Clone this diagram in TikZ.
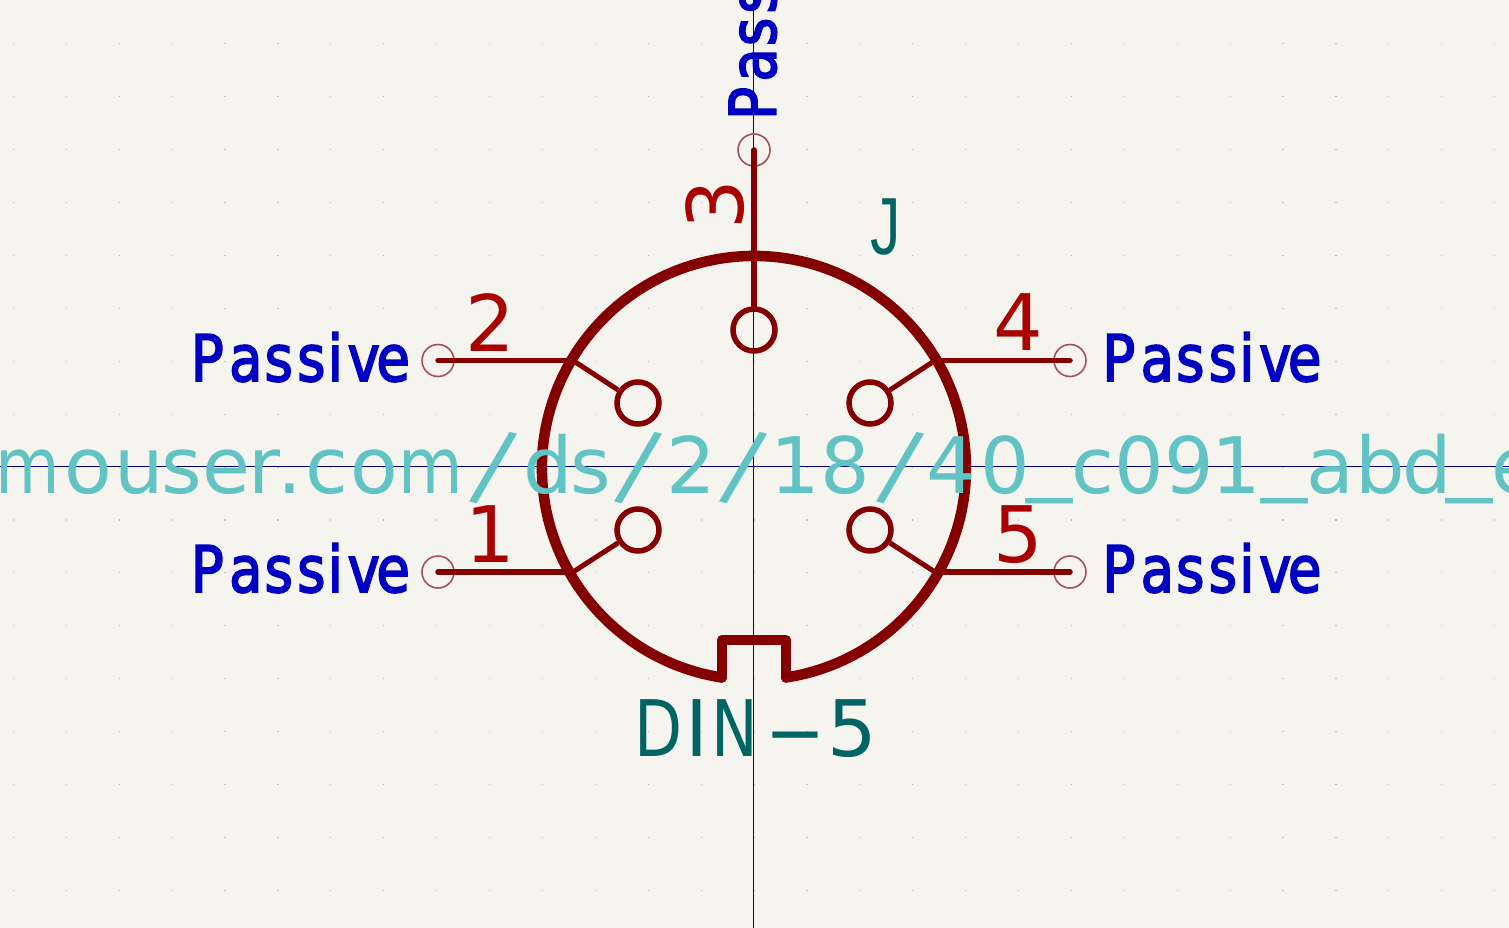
\documentclass[tikz,border=0pt]{standalone}
\usepackage{fontspec}
\setmainfont{DejaVu Sans}
\newfontfamily\pinfont[FakeBold=3]{DejaVu Sans}
\newfontfamily\reffont{Liberation Sans}
\definecolor{bgc}{HTML}{F5F4EF}
\definecolor{symc}{HTML}{840000}
\definecolor{numc}{HTML}{A90000}
\definecolor{valc}{HTML}{006464}
\definecolor{dsc}{HTML}{61C3C3}
\definecolor{typec}{HTML}{0000C2}
\definecolor{axisc}{HTML}{00007F}
\definecolor{endc}{HTML}{A85058}
\definecolor{gridc}{HTML}{C0C0B8}
\newcommand\uk[1]{\kern#1pt\relax}
\newcommand\urlslash{\makebox[52pt][c]{\raisebox{-4pt}{\rotatebox[origin=c]{-13}{\scalebox{1.2}{/}}}}}
\newcommand\urlbar{\raisebox{8pt}{\scalebox{1.18}[1]{\_}}}
\newcommand\urlm{\scalebox{.85}[1]{m}}
\newcommand\Passive{\scalebox{.85}[1]{P\uk{6.5}a\uk{2.4}s\uk{5}s\uk{2.7}i\uk{5.5}v\uk{-4}e}}
\tikzset{
  ring/.style={draw=symc,line width=10.5pt,line cap=round,line join=round},
  pinline/.style={draw=symc,line width=5.5pt,line cap=round},
  wire/.style={draw=symc,line width=5pt},
  contact/.style={circle,draw=symc,line width=5.5pt,minimum size=42pt,inner sep=0pt},
  pinend/.style={circle,draw=endc,line width=1.6pt,minimum size=32pt,inner sep=0pt},
  typelabel/.style={anchor=base west,inner sep=0pt,text=typec,font=\pinfont\fontsize{64}{64}\selectfont},
  numlabel/.style={anchor=base,inner sep=0pt,text=numc,font=\fontsize{78}{78}\selectfont},
  vallabel/.style={anchor=base west,inner sep=0pt,text=valc,font=\fontsize{78}{78}\selectfont},
  urllabel/.style={anchor=base west,inner sep=0pt,text=dsc,font=\fontsize{78}{78}\selectfont},
}
\begin{document}
\begin{tikzpicture}[x=1pt,y=-1pt]
\useasboundingbox (0,0) rectangle (1509,928);
\clip (0,0) rectangle (1509,928);
\fill[bgc] (0,0) rectangle (1509,928);
% grid dots
\foreach \i in {-14,...,14}
  \foreach \j in {-8,...,8}
    \fill[gridc] ({754+\i*52.9-0.6},{467+\j*52.9-0.6}) rectangle +(1.2,1.2);
% axes
\coordinate (axT) at (753.5,0); \coordinate (axB) at (753.5,928);
\coordinate (axL) at (0,466.5); \coordinate (axR) at (1509,466.5);
\draw[axisc,line width=1pt] (axT) -- (axB);
\draw[axisc,line width=1pt] (axL) -- (axR);
% ring and notch
\coordinate (nl) at (722,677.5); \coordinate (nr) at (786,677.5);
\coordinate (nlt) at (722,640); \coordinate (nrt) at (786,640);
\draw[ring] (nr) arc[start angle=81.3,end angle=-261.3,radius=212];
\draw[ring] (nl) -- (nlt) -- (nrt) -- (nr);
% pin ends
\node[pinend] (e1) at (438,572) {};
\node[pinend] (e2) at (438,360.5) {};
\node[pinend] (e3) at (754,150) {};
\node[pinend] (e4) at (1070,360.5) {};
\node[pinend] (e5) at (1070,572) {};
% contacts
\node[contact] (c1) at (638,530) {};
\node[contact] (c2) at (638,403) {};
\node[contact] (c3) at (754,330) {};
\node[contact] (c4) at (870,403) {};
\node[contact] (c5) at (870,530) {};
% ring junctions
\coordinate (j1) at (573,572); \coordinate (j2) at (573,360.5);
\coordinate (j4) at (935,360.5); \coordinate (j5) at (935,572);
% pins
\draw[pinline] (e1.center) -- (j1);
\draw[pinline] (e2.center) -- (j2);
\draw[pinline] (e3.center) -- (c3.north);
\draw[pinline] (e4.center) -- (j4);
\draw[pinline] (e5.center) -- (j5);
\draw[wire] (j1) -- (c1);
\draw[wire] (j2) -- (c2);
\draw[wire] (j4) -- (c4);
\draw[wire] (j5) -- (c5);
% numbers
\node[numlabel] (n1) at (490,562) {1};
\node[numlabel] (n2) at (490,351) {2};
\node[numlabel,rotate=90] (n3) at (743,205) {3};
\node[numlabel] (n4) at (1018.5,350) {4};
\node[numlabel] (n5) at (1018,562) {5};
% electrical types
\node[typelabel] (t1) at (190.7,592) {\Passive};
\node[typelabel] (t2) at (190.7,381) {\Passive};
\node[typelabel,rotate=90] (t3) at (775.7,120) {\Passive};
\node[typelabel] (t4) at (1102.2,381) {\Passive};
\node[typelabel] (t5) at (1102.2,592) {\Passive};
% reference and value
\node[anchor=base east,inner sep=0pt,text=valc,font=\reffont\fontsize{81}{81}\selectfont] (ref) at (901,254) {\scalebox{.75}[1]{J}};
\node[vallabel] (val) at (634,756.5) {\scalebox{.8}[1]{D}\uk{3}I\uk{3}\scalebox{.8}[1]{N}\uk{6.4}\scalebox{2.2}[1]{-}\uk{1.4}5};
% datasheet text
\node[urllabel] (url) at (-4.5,493.5) {\urlm\uk{3.9}o\uk{2.3}u\uk{-2.5}s\uk{.4}e\uk{-2}r\uk{-3}.\uk{4}c\uk{2}o\uk{.3}\urlm\uk{4.4}\urlslash\uk{4}d\uk{-2.5}s\uk{1.4}\urlslash\uk{2}2\uk{1.4}\urlslash\uk{1}1\uk{-.6}8\uk{5.4}\urlslash\uk{-1}4\uk{4.4}0\uk{-3.6}\urlbar\uk{-1}c\uk{1}0\uk{.4}9\uk{-3.6}1\uk{.4}\urlbar\uk{-1}a\uk{1.2}b\uk{-2.5}d\uk{-5.5}\urlbar\uk{-1}e};
\end{tikzpicture}
\end{document}
